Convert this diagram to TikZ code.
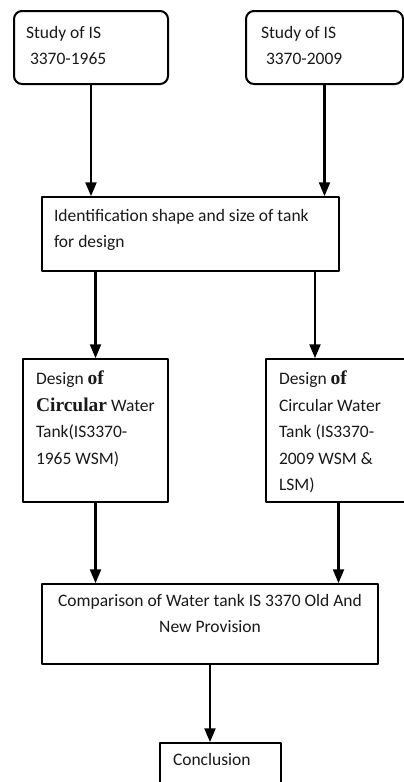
\documentclass[tikz,border=0pt]{standalone}
\usepackage{fontspec}
\setmainfont{Carlito}
\newfontfamily\gras{Liberation Serif}
\usetikzlibrary{arrows,calc}
% texte en haut du cadre : largeur, hauteur, marge haute, texte
\newcommand{\cadre}[4]{\parbox[c][#2][t]{#1}{\raggedright\vspace*{#3}#4}}
\newcommand{\fort}[1]{{\gras\bfseries\fontsize{19.5}{26.5}\selectfont #1}}

\begin{document}
\begin{tikzpicture}[line cap=round,line join=round,x=1pt,y=-1pt,
		boite/.style={draw,line width=2pt,anchor=north west,inner ysep=0pt,inner xsep=13pt,
			text=black!90,font=\fontsize{17.5}{26.5}\selectfont},
		fleche/.style={line width=2.2pt,-triangle 45}]
		\useasboundingbox (0,0) rectangle (404,782);
		% Etage 1
		\node[boite,rounded corners=8pt,inner xsep=12pt] (is65) at (13,10)
			{\cadre{130pt}{73pt}{15pt}{Study of IS\\\hspace*{4pt}3370-1965}};
		\node[boite,rounded corners=8pt,inner xsep=15pt] (is09) at (245,10)
			{\cadre{127pt}{73pt}{15pt}{Study of IS\\\hspace*{5pt}3370-2009}};
		% Etage 2
		\node[boite,inner xsep=12pt] (ident) at (41,196)
			{\cadre{273pt}{74pt}{12pt}{Identification shape and size of tank\\for design}};
		\coordinate (ident2) at ($(ident.south east)+(-25,0)$);
		% Etage 3
		\node[boite] (d65) at (22,358)
			{\cadre{119pt}{143pt}{12pt}{Design \fort{of}\\\fort{Circular} Water\\Tank(IS3370-\\1965 WSM)}};
		\node[boite] (d09) at (265,358)
			{\cadre{119pt}{143pt}{12pt}{Design \fort{of}\\Circular Water\\Tank (IS3370-\\2009 WSM \&\\LSM)}};
		% Etage 4
		\node[boite] (comp) at (41,583)
			{\cadre{310pt}{80pt}{10pt}{\centering Comparison of Water tank IS 3370 Old And\\New Provision}};
		% Etage 5
		\node[boite] (concl) at (159,742)
			{\cadre{95pt}{60pt}{10pt}{Conclusion}};
		% fleches
		\draw[fleche] (is65.south) -- (is65.south |- ident.north);
		\draw[fleche] (is09.south) -- (is09.south |- ident.north);
		\draw[fleche] (ident.south -| d65.north) -- (d65.north);
		\draw[fleche] (ident2) -- (ident2 |- d09.north);
		\draw[fleche] (d65.south) -- (d65.south |- comp.north);
		\draw[fleche] (d09.south) -- (d09.south |- comp.north);
		\draw[fleche] (comp.south) -- (comp.south |- concl.north);
\end{tikzpicture}
\end{document}
